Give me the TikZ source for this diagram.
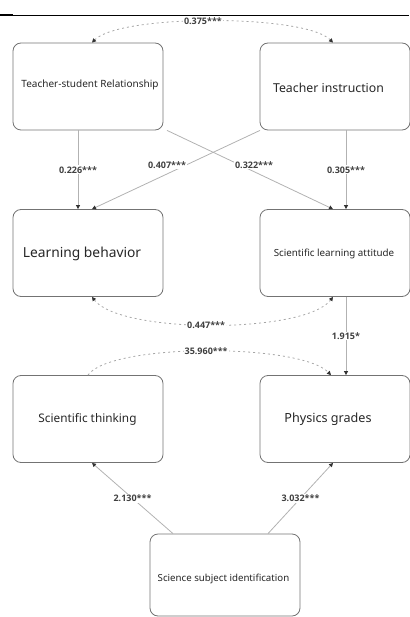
\documentclass[tikz,border=0pt]{standalone}
\usepackage{fontspec}
\setmainfont{Noto Sans}
\newfontfamily\labfont{Open Sans}
\usetikzlibrary{arrows.meta,calc}
\begin{document}
\begin{tikzpicture}[x=1pt,y=-1pt,
  box/.style={draw=black!55,line width=0.8pt,rounded corners=8pt,minimum width=150pt,minimum height=87pt,inner sep=0pt,text=black!85},
  txt/.style={text=black!85,inner sep=0pt},
  tip/.style={-{Triangle[length=4pt,width=4pt,color=black!80]}},
  link/.style={draw=black!30,line width=0.8pt,tip},
  corr/.style={draw=black!35,line width=0.8pt,dash pattern=on 2pt off 3pt},
  lab/.style={fill=white,inner sep=1pt,font=\labfont\bfseries\fontsize{9}{10}\selectfont,text=black!75}
]
\useasboundingbox (0,0) rectangle (409,617);
% top rule
\coordinate (rl) at (0,15);
\coordinate (rm) at (13,15);
\coordinate (rr) at (409,15);
\draw[line width=1.6pt] (rl) -- (rm);
\draw[line width=0.6pt] (rm) -- (rr);
% boxes
\node[box] (tsr) at (88,86.5) {};
\node[txt,font=\fontsize{10}{12}\selectfont] (tsrt) at (90,85) {Teacher-student Relationship};
\node[box] (ti) at (335,86.5) {};
\node[txt,font=\fontsize{12.3}{14}\selectfont] (tit) at (328.5,88) {Teacher instruction};
\node[box] (lb) at (88,253) {};
\node[txt,font=\fontsize{13.8}{16}\selectfont] (lbt) at (82,254) {Learning behavior};
\node[box] (sla) at (335,253) {};
\node[txt,font=\fontsize{9.8}{12}\selectfont] (slat) at (334,254) {Scientific learning attitude};
\node[box] (st) at (88,419) {};
\node[txt,font=\fontsize{11.8}{14}\selectfont] (stt) at (87.5,419) {Scientific thinking};
\node[box] (pg) at (335,419) {};
\node[txt,font=\fontsize{12.6}{14}\selectfont] (pgt) at (328,419) {Physics grades};
\node[box,minimum height=82pt] (ssi) at (225,575) {};
\node[txt,font=\fontsize{9.7}{12}\selectfont] (ssit) at (223.5,579) {Science subject identification};
% paths
\draw[link] ([xshift=-10pt]tsr.south) -- node[lab]{0.226***} ([xshift=-10pt]lb.north);
\draw[link] ([xshift=11pt]ti.south) -- node[lab]{0.305***} ([xshift=11pt]sla.north);
\draw[link] ([xshift=79pt]tsr.south) -- node[lab,pos=0.5,xshift=4pt,yshift=5pt]{0.322***} ([xshift=-2pt]sla.north);
\draw[link] ([xshift=-75pt]ti.south) -- node[lab,pos=0.5,xshift=-9pt,yshift=5pt]{0.407***} ([xshift=4pt]lb.north);
\draw[link] ([xshift=11pt]sla.south) -- node[lab]{1.915*} ([xshift=11pt]pg.north);
\draw[link] ([xshift=-52pt]ssi.north) -- node[lab,pos=0.5]{2.130***} ([xshift=4pt]st.south);
\draw[link] ([xshift=43pt]ssi.north) -- node[lab,pos=0.5]{3.032***} ([xshift=-2pt]pg.south);
% correlations
\draw[corr,{Triangle[length=4pt,width=4pt,color=black!80]}-{Triangle[length=4pt,width=4pt,color=black!80]}]
  ([xshift=4pt]tsr.north) .. controls (120,14) and (305,14) .. ([xshift=-2pt]ti.north)
  node[lab,pos=0.47] {0.375***};
\draw[corr,{Triangle[length=4pt,width=4pt,color=black!80]}-{Triangle[length=4pt,width=4pt,color=black!80]}]
  ([xshift=4pt]lb.south) .. controls (120,334) and (305,334) .. ([xshift=-2pt]sla.south)
  node[lab,pos=0.48] {0.447***};
\draw[corr,tip]
  (st.north) .. controls (110,343) and (300,343) .. ([xshift=-4pt]pg.north)
  node[lab,pos=0.5] {35.960***};
\end{tikzpicture}
\end{document}
